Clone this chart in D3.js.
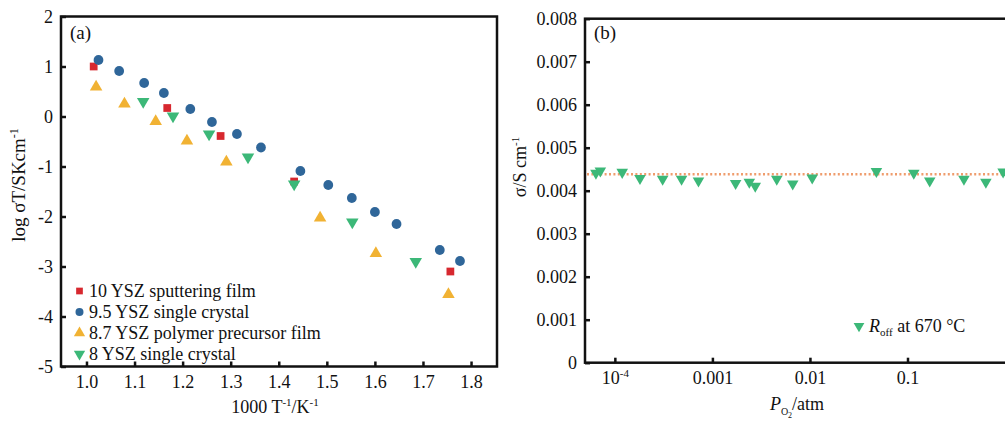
<!DOCTYPE html>
<html>
<head>
<meta charset="utf-8">
<script src="https://cdn.jsdelivr.net/npm/d3@7"></script>
<style>
  body { margin: 0; background: #fff; }
  svg text { font-family: "Liberation Serif", "DejaVu Serif", serif; fill: #111; }
</style>
</head>
<body>
<svg id="chart" width="1005" height="421"></svg>
<script>
// panel (a): Arrhenius data, x = 1000/T, y = log(sigma T)
const sputterX = [1.015, 1.168, 1.279, 1.432, 1.757];
const sputterY = [1.0, 0.17, -0.39, -1.30, -3.10];
const singleX = [1.025, 1.068, 1.12, 1.161, 1.216, 1.261, 1.313, 1.363, 1.445, 1.503, 1.552, 1.60, 1.645, 1.735, 1.777];
const singleY = [1.13, 0.91, 0.67, 0.47, 0.15, -0.11, -0.35, -0.62, -1.09, -1.37, -1.63, -1.91, -2.15, -2.67, -2.89];
const polymerX = [1.02, 1.079, 1.144, 1.209, 1.291, 1.486, 1.602, 1.753];
const polymerY = [0.59, 0.25, -0.10, -0.49, -0.91, -2.03, -2.74, -3.56];
const crystal8X = [1.118, 1.18, 1.255, 1.336, 1.432, 1.553, 1.685];
const crystal8Y = [0.30, 0.01, -0.35, -0.81, -1.35, -2.11, -2.90];
const aTicksX = [1.0, 1.1, 1.2, 1.3, 1.4, 1.5, 1.6, 1.7, 1.8];
const aTicksY = [2, 1, 0, -1, -2, -3, -4, -5];
const legendA = ["10 YSZ sputtering film", "9.5 YSZ single crystal", "8.7 YSZ polymer precursor film", "8 YSZ single crystal"];

// panel (b): conductivity vs oxygen partial pressure
const po2 = [6.4e-5, 7.1e-5, 1.19e-4, 1.81e-4, 3.09e-4, 4.83e-4, 7.2e-4, 1.73e-3, 2.39e-3, 2.75e-3, 4.57e-3, 6.66e-3, 0.01055, 0.048, 0.116, 0.169, 0.379, 0.636, 0.955];
const sigma = [0.00441, 0.00446, 0.00443, 0.00429, 0.00427, 0.00427, 0.00423, 0.00417, 0.00420, 0.00411, 0.00427, 0.00416, 0.00430, 0.00445, 0.00441, 0.00423, 0.00427, 0.00420, 0.00444];
const sigmaMean = 0.00438;
const bTicksY = [0, 0.001, 0.002, 0.003, 0.004, 0.005, 0.006, 0.007, 0.008];
const bTicksX = [1e-4, 1e-3, 1e-2, 1e-1];
const bTickLabels = ["10-4", "0.001", "0.01", "0.1"];

const red = "#d7282f", blue = "#2f6699", orange = "#f1b233", green = "#3cb878";
const serif = "Liberation Serif, serif";
const fs = 18;

const svg = d3.select("#chart");
const sym = d3.symbol();

function styleAxis(g) {
  g.attr("font-family", serif);
  g.select(".domain").remove();
  g.selectAll("line").attr("stroke", "#111").attr("stroke-width", 2.5);
  g.selectAll("text").attr("font-size", fs).attr("fill", "#111").attr("font-family", serif);
}

// ---------- panel (a)
const ax = d3.scaleLinear().domain([0.947, 1.854]).range([61, 497]);
const ay = d3.scaleLinear().domain([-5, 2]).range([366.5, 16.5]);
const ga = svg.append("g");

ga.append("rect").attr("x", 61).attr("y", 16.5).attr("width", 436).attr("height", 350)
  .attr("fill", "none").attr("stroke", "#111").attr("stroke-width", 2.5);

const axA = ga.append("g").attr("transform", "translate(0,366.5)")
  .call(d3.axisBottom(ax).tickValues(aTicksX).tickFormat(d3.format(".1f")).tickSizeInner(-5).tickSizeOuter(0).tickPadding(9));
const ayA = ga.append("g").attr("transform", "translate(61,0)")
  .call(d3.axisLeft(ay).tickValues(aTicksY).tickFormat(d => d).tickSizeInner(-5).tickSizeOuter(0).tickPadding(8));
styleAxis(axA);
styleAxis(ayA);

function drawSeries(g, xs, ys, x, y, type, size, color, rot) {
  g.selectAll(null).data(xs).enter().append("path")
    .attr("d", sym.type(type).size(size)())
    .attr("transform", (d, i) => `translate(${x(d)},${y(ys[i])}) rotate(${rot})`)
    .attr("fill", color);
}
drawSeries(ga, sputterX, sputterY, ax, ay, d3.symbolSquare, 60, red, 0);
drawSeries(ga, singleX, singleY, ax, ay, d3.symbolCircle, 75, blue, 0);
drawSeries(ga, polymerX, polymerY, ax, ay, d3.symbolTriangle, 68, orange, 0);
drawSeries(ga, crystal8X, crystal8Y, ax, ay, d3.symbolTriangle, 68, green, 180);

ga.append("text").attr("x", 70).attr("y", 39).attr("font-size", 19).attr("font-family", serif).text("(a)");

const legA = ga.append("g");
const legSyms = [[d3.symbolSquare, red, 0, 45], [d3.symbolCircle, blue, 0, 50], [d3.symbolTriangle, orange, 0, 55], [d3.symbolTriangle, green, 180, 55]];
legendA.forEach((t, i) => {
  const yy = 291 + i * 21;
  legA.append("path").attr("d", sym.type(legSyms[i][0]).size(legSyms[i][3])())
    .attr("transform", `translate(79.5,${yy}) rotate(${legSyms[i][2]})`).attr("fill", legSyms[i][1]);
  legA.append("text").attr("x", 89).attr("y", yy + 6).attr("font-size", fs).attr("font-family", serif).text(t);
});

ga.append("text").attr("transform", "translate(25,185) rotate(-90)").attr("text-anchor", "middle")
  .attr("font-size", 19).attr("font-family", serif).html('log σT/SKcm<tspan dy="-7" font-size="12">-1</tspan>');
ga.append("text").attr("x", 275).attr("y", 413).attr("text-anchor", "middle").attr("font-size", 18).attr("font-family", serif)
  .html('1000 T<tspan dy="-7" font-size="11">-1</tspan><tspan dy="7">/K</tspan><tspan dy="-7" font-size="11">-1</tspan>');

// ---------- panel (b)
const bx = d3.scaleLog().domain([Math.pow(10, -4.306), Math.pow(10, 0.02)]).range([585, 1007]);
const by = d3.scaleLinear().domain([0, 0.008]).range([362.7, 18.7]);
const gb = svg.append("g");

gb.append("rect").attr("x", 585).attr("y", 18.7).attr("width", 425).attr("height", 344)
  .attr("fill", "none").attr("stroke", "#111").attr("stroke-width", 2.5);

const axB = gb.append("g").attr("transform", "translate(0,362.7)")
  .call(d3.axisBottom(bx).tickValues(bTicksX).tickFormat((d, i) => bTickLabels[i]).tickSizeInner(-5).tickSizeOuter(0).tickPadding(9));
const ayB = gb.append("g").attr("transform", "translate(585,0)")
  .call(d3.axisLeft(by).tickValues(bTicksY).tickFormat(d => d === 0 ? "0" : d3.format(".3f")(d)).tickSizeInner(-5).tickSizeOuter(0).tickPadding(8));
styleAxis(axB);
styleAxis(ayB);
// superscript for 10^-4
axB.selectAll(".tick text").filter((d, i) => i === 0).text(null)
  .html('10<tspan dy="-7" font-size="11">-4</tspan>');

gb.append("line").attr("x1", 587).attr("x2", 1005).attr("y1", by(sigmaMean)).attr("y2", by(sigmaMean))
  .attr("stroke", "#ef9c6c").attr("stroke-width", 2.5).attr("stroke-dasharray", "2,2.4");

drawSeries(gb, po2, sigma, bx, by, d3.symbolTriangle, 58, green, 180);

gb.append("text").attr("x", 594).attr("y", 39).attr("font-size", 19).attr("font-family", serif).text("(b)");

gb.append("path").attr("d", sym.type(d3.symbolTriangle).size(50)())
  .attr("transform", "translate(859,326) rotate(180)").attr("fill", green);
gb.append("text").attr("x", 869).attr("y", 332).attr("font-size", 18).attr("font-family", serif)
  .html('<tspan font-style="italic">R</tspan><tspan dy="4" font-size="11">off</tspan><tspan dy="-4"> at 670 °C</tspan>');

gb.append("text").attr("transform", "translate(526,167) rotate(-90)").attr("text-anchor", "middle")
  .attr("font-size", 18).attr("font-family", serif).html('σ/S cm<tspan dy="-7" font-size="11">-1</tspan>');
gb.append("text").attr("x", 797).attr("y", 410).attr("text-anchor", "middle").attr("font-size", 18).attr("font-family", serif)
  .html('<tspan font-style="italic">P</tspan><tspan dy="5" font-size="10">O</tspan><tspan dy="3" font-size="8">2</tspan><tspan dy="-8">/atm</tspan>');
</script>
</body>
</html>
